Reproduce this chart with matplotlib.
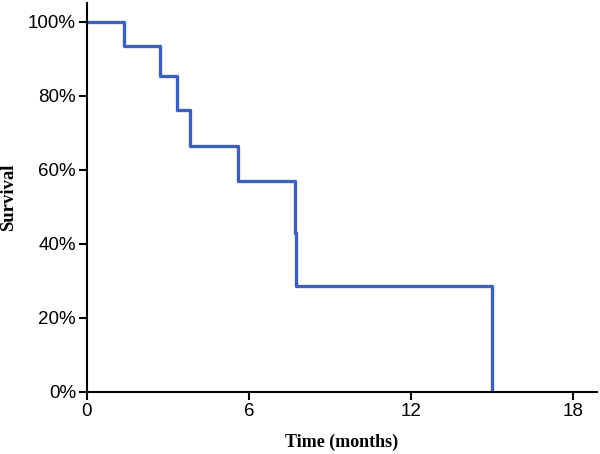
import matplotlib
matplotlib.use("Agg")
import matplotlib.pyplot as plt
from matplotlib.ticker import FuncFormatter

# Kaplan-Meier steps
times = [0, 1.37, 2.7, 3.34, 3.81, 5.6, 7.7, 7.76, 15.0]
surv = [1.0, 0.935, 0.854, 0.761, 0.664, 0.570, 0.428, 0.285, 0.0]
xticks = [0, 6, 12, 18]
yticks = [0, 0.2, 0.4, 0.6, 0.8, 1.0]

fig = plt.figure(figsize=(6, 4.54), dpi=100)
ax = fig.add_axes([0.145, 0.137, 0.85, 0.856])

ax.step(times, surv, where='post', color='#3f5fbf', lw=2.4)

ax.set_xlim(0, 18.9)
ax.set_ylim(0, 1.05)
ax.set_xticks(xticks)
ax.set_yticks(yticks)
ax.yaxis.set_major_formatter(FuncFormatter(lambda v, p: '%d%%' % round(v * 100)))

for s in ['top', 'right']:
    ax.spines[s].set_visible(False)
for s in ['left', 'bottom']:
    ax.spines[s].set_linewidth(1.5)
ax.tick_params(direction='out', length=6, width=1.5, labelsize=13.5, pad=2)
for lab in ax.get_xticklabels() + ax.get_yticklabels():
    lab.set_family('Liberation Sans')

ax.set_xlabel('Time (months)', family='Liberation Serif', fontweight='bold', fontsize=13, labelpad=10)
ax.set_ylabel('Survival', family='Liberation Serif', fontweight='bold', fontsize=13.5, labelpad=8)

fig.savefig('out.png', dpi=100)
